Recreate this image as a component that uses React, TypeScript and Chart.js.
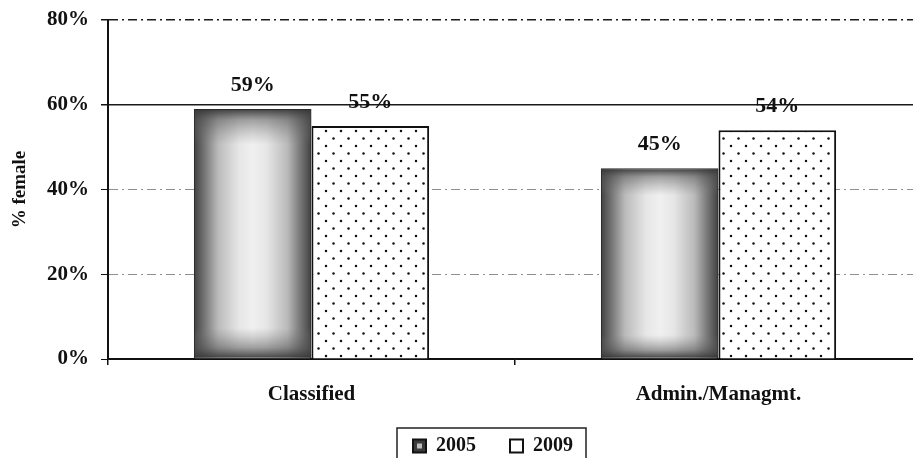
import React, { useEffect, useRef } from 'react';
import { Chart, registerables } from 'chart.js';

Chart.register(...registerables);

const categories = ['Classified', 'Admin./Managmt.'];
const seriesLabels = ['2005', '2009'];
const values2005 = [59, 45];
const values2009 = [55, 54];
const yMin = 0;
const yMax = 80;
const yStep = 20;
const yTitle = '% female';

const FONT = "'Liberation Serif', 'Times New Roman', serif";
const INK = '#111111';

function makeDotPattern(): CanvasPattern | string {
  const c = document.createElement('canvas');
  c.width = 15;
  c.height = 15;
  const g = c.getContext('2d');
  if (!g) return '#ffffff';
  g.fillStyle = '#ffffff';
  g.fillRect(0, 0, 15, 15);
  g.fillStyle = '#111111';
  g.beginPath();
  g.arc(3.5, 3.5, 1.25, 0, Math.PI * 2);
  g.fill();
  g.beginPath();
  g.arc(11, 11, 1.25, 0, Math.PI * 2);
  g.fill();
  return g.createPattern(c, 'repeat') || '#ffffff';
}

const shadePlugin = {
  id: 'shade',
  afterDatasetDraw(chart: any, args: any) {
    if (args.index !== 0) return;
    const ctx = chart.ctx;
    args.meta.data.forEach((el: any) => {
      const { x, y, base, width } = el.getProps(['x', 'y', 'base', 'width'], true);
      const l = x - width / 2 + 1;
      const r = x + width / 2 - 1;
      const t = y + 1;
      const b = base - 1;
      const hg = ctx.createLinearGradient(l, 0, r, 0);
      hg.addColorStop(0, '#454545');
      hg.addColorStop(0.08, '#737373');
      hg.addColorStop(0.2, '#bababa');
      hg.addColorStop(0.38, '#e6e6e6');
      hg.addColorStop(0.5, '#f0f0f0');
      hg.addColorStop(0.62, '#e6e6e6');
      hg.addColorStop(0.8, '#bababa');
      hg.addColorStop(0.92, '#737373');
      hg.addColorStop(1, '#454545');
      ctx.save();
      ctx.fillStyle = hg;
      ctx.fillRect(l, t, r - l, b - t);
      const vg = ctx.createLinearGradient(0, t, 0, b);
      vg.addColorStop(0, 'rgba(55,55,55,0.9)');
      vg.addColorStop(0.04, 'rgba(80,80,80,0.5)');
      vg.addColorStop(0.14, 'rgba(120,120,120,0)');
      vg.addColorStop(0.88, 'rgba(120,120,120,0)');
      vg.addColorStop(0.96, 'rgba(80,80,80,0.5)');
      vg.addColorStop(1, 'rgba(55,55,55,0.9)');
      ctx.fillStyle = vg;
      ctx.fillRect(l, t, r - l, b - t);
      ctx.restore();
    });
  },
};

const valueLabelPlugin = {
  id: 'valueLabels',
  afterDatasetsDraw(chart: any) {
    const ctx = chart.ctx;
    ctx.save();
    ctx.font = `bold 22px ${FONT}`;
    ctx.fillStyle = INK;
    ctx.textAlign = 'center';
    ctx.textBaseline = 'bottom';
    chart.data.datasets.forEach((ds: any, di: number) => {
      const meta = chart.getDatasetMeta(di);
      meta.data.forEach((el: any, i: number) => {
        const { x, y } = el.getProps(['x', 'y'], true);
        ctx.fillText(`${ds.data[i]}%`, x, y - 13);
      });
    });
    ctx.restore();
  },
};

const legendFramePlugin = {
  id: 'legendFrame',
  afterLayout(chart: any) {
    const lg = chart.legend;
    if (lg) {
      lg.left += 32;
      lg.right += 32;
      lg.top -= 4;
      lg.bottom -= 4;
    }
  },
  afterDraw(chart: any) {
    const lg = chart.legend;
    if (!lg || !lg.legendHitBoxes || !lg.legendHitBoxes.length) return;
    const boxes = lg.legendHitBoxes;
    let minL = Infinity;
    let maxR = -Infinity;
    let minT = Infinity;
    boxes.forEach((b: any) => {
      minL = Math.min(minL, b.left);
      maxR = Math.max(maxR, b.left + b.width);
      minT = Math.min(minT, b.top);
    });
    const ctx = chart.ctx;
    ctx.save();
    ctx.strokeStyle = '#222222';
    ctx.lineWidth = 1.5;
    ctx.strokeRect(minL - 16, minT - 8, maxR - minL + 29, 60);
    const b0 = boxes[0];
    const y0 = b0.top + (b0.height - 13) / 2;
    ctx.fillStyle = '#bdbdbd';
    ctx.fillRect(b0.left + 4, y0 + 4, 5, 5);
    ctx.restore();
  },
};

export default function App() {
  const ref = useRef<HTMLCanvasElement | null>(null);

  useEffect(() => {
    if (!ref.current) return;
    const pattern = makeDotPattern();
    const chart = new Chart(ref.current, {
      type: 'bar',
      data: {
        labels: categories,
        datasets: [
          {
            label: seriesLabels[0],
            data: values2005,
            backgroundColor: '#8a8a8a',
            borderColor: '#2a2a2a',
            borderWidth: 1.5,
            categoryPercentage: 0.578,
            barPercentage: 1,
          },
          {
            label: seriesLabels[1],
            data: values2009,
            backgroundColor: pattern as any,
            borderColor: '#111111',
            borderWidth: 2,
            categoryPercentage: 0.578,
            barPercentage: 1,
          },
        ],
      },
      options: {
        responsive: false,
        animation: false,
        layout: { padding: { top: 20, right: 3, left: 0, bottom: -12 } },
        plugins: {
          legend: {
            position: 'bottom',
            labels: {
              color: INK,
              font: { family: FONT, size: 20, weight: 'bold' },
              boxWidth: 13,
              boxHeight: 13,
              padding: 34,
              generateLabels: () => [
                {
                  text: seriesLabels[0],
                  fillStyle: '#3a3a3a',
                  strokeStyle: '#111111',
                  lineWidth: 2,
                  fontColor: INK,
                  datasetIndex: 0,
                  hidden: false,
                } as any,
                {
                  text: seriesLabels[1],
                  fillStyle: '#ffffff',
                  strokeStyle: '#111111',
                  lineWidth: 2,
                  fontColor: INK,
                  datasetIndex: 1,
                  hidden: false,
                } as any,
              ],
            },
          },
          tooltip: { enabled: false },
        },
        scales: {
          x: {
            offset: true,
            grid: {
              display: true,
              offset: true,
              drawOnChartArea: false,
              drawTicks: true,
              tickLength: 6,
              color: '#111111',
              lineWidth: 1.5,
            },
            border: { display: true, color: '#111111', width: 1.5 },
            ticks: {
              color: INK,
              font: { family: FONT, size: 21, weight: 'bold' },
              padding: 17,
            },
            afterFit: (scale: any) => {
              scale.height = 47;
            },
          },
          y: {
            min: yMin,
            max: yMax,
            ticks: {
              stepSize: yStep,
              color: INK,
              font: { family: FONT, size: 21, weight: 'bold' },
              padding: 12,
              callback: (v: any) => `${v}%`,
            },
            grid: {
              drawTicks: true,
              tickLength: 7,
              tickColor: '#111111',
              lineWidth: (c: any) => (c.tick && (c.tick.value === 60 || c.tick.value === 80) ? 1.5 : 1),
              color: (c: any) => {
                const v = c.tick ? c.tick.value : 0;
                if (v === 60 || v === 80) return '#1a1a1a';
                if (v === 0) return '#111111';
                return '#8f8f8f';
              },
            },
            border: {
              display: true,
              color: '#111111',
              width: 2,
              dash: (c: any) => {
                if (!c.tick) return [];
                const v = c.tick.value;
                if (v === 60 || v === 0) return [];
                return [9, 4, 2, 4];
              },
            },
            title: {
              display: true,
              text: yTitle,
              color: INK,
              font: { family: FONT, size: 19, weight: 'bold' },
              padding: { top: 9, bottom: 0 },
            },
            afterFit: (scale: any) => {
              scale.width = 108;
              scale.paddingTop = 0;
              scale.paddingBottom = 0;
            },
          },
        },
      },
      plugins: [shadePlugin, valueLabelPlugin, legendFramePlugin],
    } as any);
    return () => chart.destroy();
  }, []);

  return (
    <div
      style={{
        position: 'fixed',
        left: 0,
        top: 0,
        width: 913,
        height: 458,
        overflow: 'hidden',
        background: '#ffffff',
      }}
    >
      <canvas ref={ref} width={925} height={458} style={{ display: 'block' }} />
    </div>
  );
}
